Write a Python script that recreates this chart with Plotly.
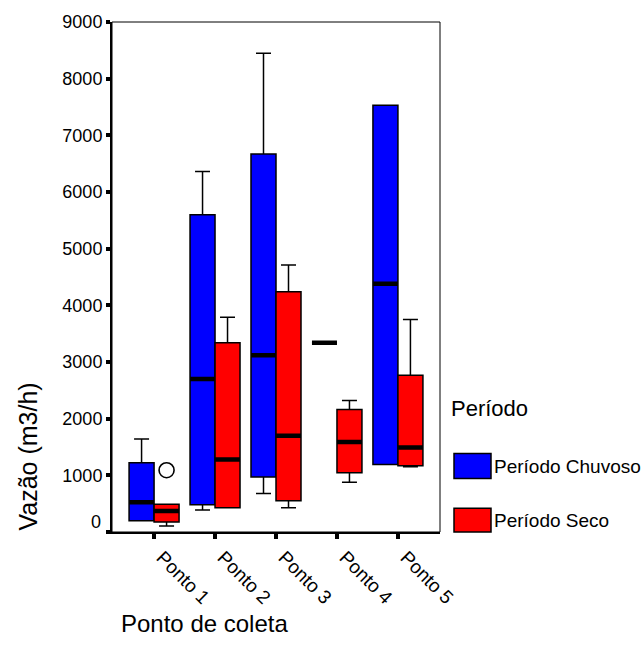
"""
Vazão por ponto de coleta (período chuvoso x seco) - boxplot
"""

import plotly.graph_objs as go

# Categories
pontos = ['Ponto 1', 'Ponto 2', 'Ponto 3', 'Ponto 4', 'Ponto 5']

# Período Chuvoso (precomputed box statistics, m3/h)
chuvoso_min = [200, 390, 680, 3340, 1190]
chuvoso_q1 = [200, 480, 970, 3340, 1190]
chuvoso_med = [525, 2700, 3120, 3340, 4380]
chuvoso_q3 = [1220, 5600, 6670, 3340, 7530]
chuvoso_max = [1640, 6360, 8450, 3340, 7530]

# Período Seco
seco_min = [105, 430, 430, 880, 1150]
seco_q1 = [175, 430, 550, 1045, 1170]
seco_med = [370, 1280, 1700, 1590, 1490]
seco_q3 = [490, 3340, 4240, 2160, 2765]
seco_max = [490, 3790, 4710, 2320, 3750]

# Outlier (Período Seco, Ponto 1)
outlier_ponto = [0]
outlier_valor = [1090]

y_ticks = [0, 1000, 2000, 3000, 4000, 5000, 6000, 7000, 8000, 9000]
y_labels = ['', '1000', '2000', '3000', '4000', '5000', '6000', '7000', '8000', '9000']

BLUE = '#0000FF'
RED = '#FF0000'
FONT = 'Liberation Sans, Arial, sans-serif'
BOX_W = 0.41

# plot area in pixels (used to place the hand-made legend / titles)
W, H = 644, 660
M = dict(l=112, r=204, t=18, b=128)
PW = W - M['l'] - M['r']
PH = H - M['t'] - M['b']


def px(x):
    return (x - M['l']) / PW


def py(y):
    return (H - M['b'] - y) / PH


def box_trace(pos, lo, q1, med, q3, hi, color, name, width=1.5, whisk=0.6):
    return go.Box(
        x=pos, lowerfence=lo, q1=q1, median=med, q3=q3, upperfence=hi,
        width=BOX_W, whiskerwidth=whisk, boxpoints=False,
        fillcolor=color, line=dict(color='black', width=width),
        name=name, showlegend=False, hoverinfo='skip'
    )


idx = list(range(len(pontos)))
pos_chuvoso = [i - BOX_W / 2 for i in idx]
pos_seco = [i + BOX_W / 2 for i in idx]

fig = go.Figure()

fig.add_trace(box_trace(pos_chuvoso, chuvoso_min, chuvoso_q1, chuvoso_med,
                        chuvoso_q3, chuvoso_max, BLUE, 'Período Chuvoso'))
fig.add_trace(box_trace(pos_seco, seco_min, seco_q1, seco_med,
                        seco_q3, seco_max, RED, 'Período Seco'))

# thick median bars drawn as flat boxes on top
fig.add_trace(box_trace(pos_chuvoso, chuvoso_med, chuvoso_med, chuvoso_med,
                        chuvoso_med, chuvoso_med, 'black', 'med_c', width=4.5, whisk=0))
fig.add_trace(box_trace(pos_seco, seco_med, seco_med, seco_med,
                        seco_med, seco_med, 'black', 'med_s', width=4.5, whisk=0))

fig.add_trace(go.Scatter(
    x=[i + BOX_W / 2 for i in outlier_ponto], y=outlier_valor,
    mode='markers', showlegend=False, hoverinfo='skip',
    marker=dict(symbol='circle-open', size=15, color='black', line=dict(width=1.6))
))

# Legend drawn by hand (large swatches like the original)
annotations = [
    dict(x=px(449), y=py(408), xref='paper', yref='paper', text='Período',
         showarrow=False, xanchor='left', yanchor='middle',
         font=dict(size=22, color='black', family=FONT)),
    dict(x=px(492), y=py(466), xref='paper', yref='paper', text='Período Chuvoso',
         showarrow=False, xanchor='left', yanchor='middle',
         font=dict(size=19, color='black', family=FONT)),
    dict(x=px(492), y=py(520), xref='paper', yref='paper', text='Período Seco',
         showarrow=False, xanchor='left', yanchor='middle',
         font=dict(size=19, color='black', family=FONT)),
    dict(x=px(28), y=py(456), xref='paper', yref='paper', text='Vazão (m3/h)',
         showarrow=False, textangle=-90, xanchor='center', yanchor='middle',
         font=dict(size=25, color='black', family=FONT)),
    dict(x=px(204), y=py(624), xref='paper', yref='paper', text='Ponto de coleta',
         showarrow=False, xanchor='center', yanchor='middle',
         font=dict(size=24, color='black', family=FONT)),
    # the "0" label sits a little above its tick in the original
    dict(x=px(103), y=0, xref='paper', yref='y', text='0', yshift=10,
         showarrow=False, xanchor='right', yanchor='middle',
         font=dict(size=18, color='black', family=FONT)),
]

shapes = [
    dict(type='rect', xref='paper', yref='paper', x0=0, x1=1, y0=0, y1=1,
         line=dict(color='black', width=1), layer='above'),
    dict(type='rect', xref='paper', yref='paper', x0=px(454), x1=px(491),
         y0=py(478), y1=py(453), fillcolor=BLUE, line=dict(color='black', width=1.5)),
    dict(type='rect', xref='paper', yref='paper', x0=px(454), x1=px(491),
         y0=py(532), y1=py(508), fillcolor=RED, line=dict(color='black', width=1.5)),
]

fig.update_layout(
    width=W, height=H,
    margin=M,
    paper_bgcolor='white', plot_bgcolor='white',
    font=dict(family=FONT, color='black'),
    showlegend=False,
    annotations=annotations,
    shapes=shapes,
    xaxis=dict(
        range=[-0.69, 4.69], tickvals=idx, ticktext=pontos, tickangle=45,
        showgrid=False, zeroline=False, showline=True, linecolor='black', linewidth=2,
        ticks='outside', ticklen=5, tickwidth=4, tickcolor='black',
        ticklabelshift=8, ticklabelstandoff=0,
        tickfont=dict(size=19, family=FONT, color='black')
    ),
    yaxis=dict(
        range=[0, 9000], tickvals=y_ticks, ticktext=y_labels,
        showgrid=False, zeroline=False, showline=True, linecolor='black', linewidth=2,
        ticks='outside', ticklen=4, tickwidth=4, tickcolor='black',
        tickfont=dict(size=18, family=FONT, color='black')
    )
)

# drop the browser's default body margin so the figure sits at (0, 0)
fig.write_html("out.html", config={'displayModeBar': False},
               post_script="document.body.style.margin='0';")
